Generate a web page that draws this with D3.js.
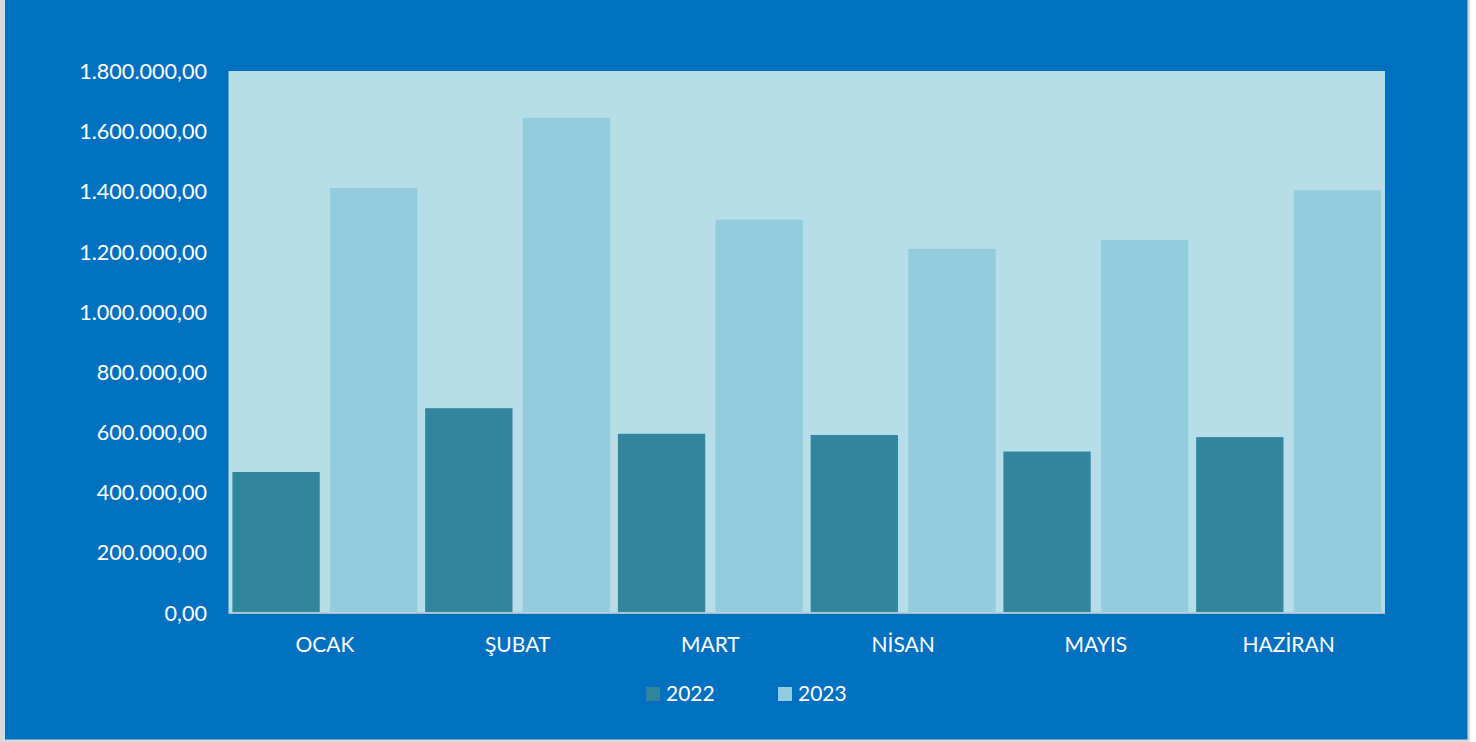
<!DOCTYPE html>
<html>
<head>
<meta charset="utf-8">
<script src="https://cdn.jsdelivr.net/npm/d3@7"></script>
<style>
  html, body { margin: 0; padding: 0; background: #ffffff; }
  svg { display: block; }
  text { font-family: Lato, "Open Sans", sans-serif; fill: #ffffff; }
</style>
</head>
<body>
<svg id="chart" width="1476" height="742"></svg>
<script>
const categories = ["OCAK", "ŞUBAT", "MART", "NİSAN", "MAYIS", "HAZİRAN"];
const seriesNames = ["2022", "2023"];
const values2022 = [467000, 679000, 594000, 590000, 535000, 583000];
const values2023 = [1411000, 1644000, 1306000, 1209000, 1238000, 1404000];
const yTicks = [0, 200000, 400000, 600000, 800000, 1000000, 1200000, 1400000, 1600000, 1800000];

const colors = { "2022": "#31859C", "2023": "#93CDDD" };

const svg = d3.select("#chart");

// frame
svg.append("rect").attr("x", 0).attr("y", 0).attr("width", 1470).attr("height", 742).attr("fill", "#D9D9D9");
svg.append("rect").attr("x", 5).attr("y", 0).attr("width", 1462.5).attr("height", 739.5).attr("fill", "#0070C0");

const plot = { left: 228.5, right: 1385, top: 71, bottom: 612.5 };

svg.append("rect")
  .attr("x", plot.left).attr("y", plot.top)
  .attr("width", plot.right - plot.left).attr("height", plot.bottom - plot.top)
  .attr("fill", "#B7DDE8");

const x = d3.scaleBand().domain(categories).range([plot.left, plot.right]).paddingInner(0).paddingOuter(0);
const x1 = d3.scaleBand().domain(seriesNames).range([0, x.bandwidth()]).paddingInner(0.1055).paddingOuter(0.04);
const y = d3.scaleLinear().domain([0, 1800000]).range([plot.bottom, plot.top]);

const trLocale = d3.formatLocale({ decimal: ",", thousands: ".", grouping: [3], currency: ["", " ₺"] });
const fmt = trLocale.format(",.2f");

const rows = categories.map((c, i) => ({ cat: c, "2022": values2022[i], "2023": values2023[i] }));

const groups = svg.append("g").selectAll("g").data(rows).join("g")
  .attr("transform", d => `translate(${x(d.cat)},0)`);

groups.selectAll("rect").data(d => seriesNames.map(s => ({ s, v: d[s] }))).join("rect")
  .attr("x", d => x1(d.s))
  .attr("y", d => y(d.v))
  .attr("width", x1.bandwidth())
  .attr("height", d => y(0) - y(d.v))
  .attr("fill", d => colors[d.s]);

// baseline
svg.append("line")
  .attr("x1", plot.left).attr("x2", plot.right)
  .attr("y1", y(0) + 0.5).attr("y2", y(0) + 0.5)
  .attr("stroke", "#D9D9D9").attr("stroke-width", 1.5);

// y axis
const yAxis = d3.axisLeft(y).tickValues(yTicks).tickFormat(fmt).tickSize(0).tickPadding(0);
const gy = svg.append("g").attr("transform", `translate(207,0)`).call(yAxis);
gy.select(".domain").remove();
gy.selectAll("text").attr("font-size", 21.6).attr("fill", "#ffffff").attr("font-family", "Lato, sans-serif").attr("dy", "0.35em");

// x axis
const xAxis = d3.axisBottom(x).tickSize(0).tickPadding(0);
const gx = svg.append("g").attr("transform", `translate(0,${plot.bottom})`).call(xAxis);
gx.select(".domain").remove();
gx.selectAll("text").attr("font-size", 21).attr("fill", "#ffffff").attr("font-family", "Lato, sans-serif")
  .attr("y", 39.5).attr("dy", 0);

// legend
const legendItems = [
  { s: "2022", sx: 646, tx: 666 },
  { s: "2023", sx: 778, tx: 798 }
];
const lg = svg.append("g");
legendItems.forEach(it => {
  lg.append("rect").attr("x", it.sx).attr("y", 687).attr("width", 14).attr("height", 14).attr("fill", colors[it.s]);
  lg.append("text").attr("x", it.tx).attr("y", 701).attr("font-size", 21).text(it.s);
});
</script>
</body>
</html>
